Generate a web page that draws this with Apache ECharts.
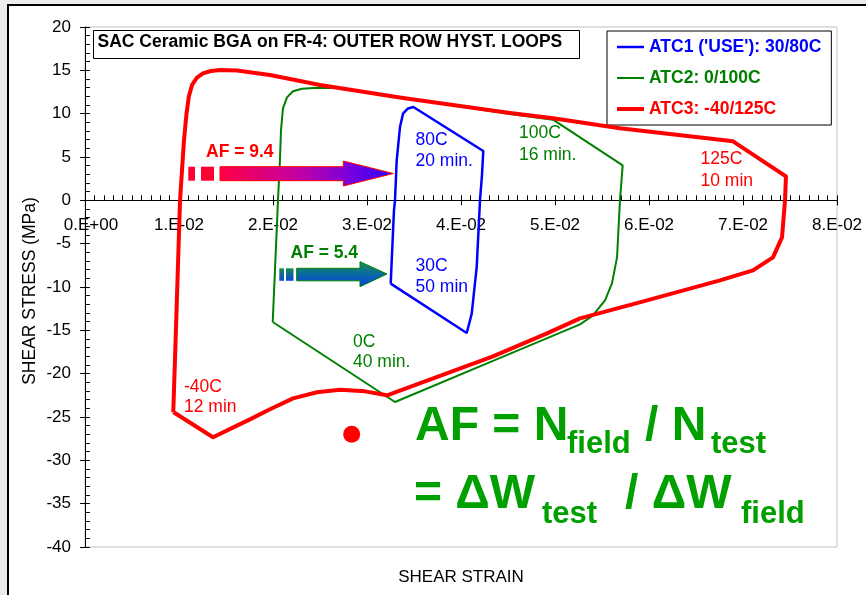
<!DOCTYPE html>
<html>
<head>
<meta charset="utf-8">
<script src="https://cdn.jsdelivr.net/npm/echarts/dist/echarts.min.js"></script>
<style>
  html, body { margin: 0; padding: 0; background: #ececec; overflow: hidden; }
  #frame { position: absolute; left: 7px; top: 4px; width: 900px; height: 700px; border: 2px solid #000; background: #fff; }
  #chart { position: absolute; left: 0; top: 0; width: 866px; height: 595px; }
</style>
</head>
<body>
<div id="frame"></div>
<div id="chart"></div>
<script>
// ---- data ----
const xTickLabels = ['0.E+00', '1.E-02', '2.E-02', '3.E-02', '4.E-02', '5.E-02', '6.E-02', '7.E-02', '8.E-02'];
const seriesNames = ["ATC1 ('USE'): 30/80C", 'ATC2: 0/100C', 'ATC3: -40/125C'];

const atc1Strain = [0.03252, 0.03287, 0.03298, 0.03316, 0.03351, 0.03383, 0.03436, 0.03493, 0.04237, 0.04223, 0.04202, 0.04167, 0.04114, 0.04061, 0.03252];
const atc1Stress = [-9.61, -1.15, 0.0, 4.62, 8.46, 10.0, 10.6, 10.77, 5.69, 2.88, 0.0, -7.7, -13.07, -15.31, -9.61];

const atc2Strain = [0.01997, 0.02053, 0.02074, 0.02085, 0.02106, 0.02149, 0.02213, 0.02309, 0.02468, 0.02681, 0.03383, 0.04521, 0.04979, 0.0572, 0.05691, 0.0566, 0.05606, 0.05532, 0.05394, 0.05266, 0.0434, 0.03298, 0.01997];
const atc2Stress = [-14.04, 0.0, 4.62, 8.08, 10.62, 11.88, 12.58, 12.87, 13.0, 12.96, 11.85, 9.95, 9.31, 4.04, 0.0, -6.58, -9.58, -11.54, -13.38, -14.31, -18.52, -23.27, -14.04];

const atc3Strain = [0.00939, 0.00957, 0.01011, 0.01053, 0.01080, 0.01105, 0.01140, 0.01191, 0.01255, 0.01340, 0.01436, 0.01617, 0.01968, 0.025, 0.03383, 0.04521, 0.04979, 0.05691, 0.06894, 0.07457, 0.07447, 0.07415, 0.07319, 0.07106, 0.06755, 0.05979, 0.05266, 0.04915, 0.0434, 0.03213, 0.02979, 0.02713, 0.02468, 0.02213, 0.01968, 0.01755, 0.01578, 0.01362, 0.00939];
const atc3Stress = [-24.43, -18.46, 0.0, 6.92, 10.0, 12.0, 13.35, 14.15, 14.65, 14.92, 15.03, 14.97, 14.46, 13.3, 11.8, 10.08, 9.46, 8.31, 6.81, 2.77, 0.0, -4.27, -6.58, -8.08, -9.23, -11.54, -13.62, -15.35, -18.0, -22.5, -22.04, -21.86, -22.15, -22.85, -24.11, -25.27, -26.2, -27.34, -24.43];

const bulletStrain = [0.02837];
const bulletStress = [-27.0];

const zip = (xs, ys) => xs.map((x, i) => [x, ys[i]]);

const FONT = '"Liberation Sans", Arial, sans-serif';
const BLUE = '#0000ff', GREEN = '#008000', RED = '#ff0000', BIGGREEN = '#00a000';

function txt(text, x, y, size, color, bold, lineHeight) {
  const style = {
    text: text, fill: color,
    font: (bold ? 'bold ' : '') + size + 'px ' + FONT,
    align: 'left', verticalAlign: 'middle'
  };
  if (lineHeight) style.lineHeight = lineHeight;
  return { type: 'text', x: x, y: y, z: 20, style: style };
}

const chart = echarts.init(document.getElementById('chart'), null, { renderer: 'canvas' });

const gridTop = 27, gridBottom = 48, chartH = 595;
// x tick labels must sit just under the zero line (Excel style)
const zeroLineY = 200;
const labelMargin = 17 - ((chartH - gridBottom) - zeroLineY);

const option = {
  animation: false,
  backgroundColor: 'transparent',
  grid: {
    left: 85, right: 29, top: gridTop, bottom: gridBottom,
    show: true, borderColor: '#c0c0c0', borderWidth: 1, backgroundColor: 'transparent',
    containLabel: false, outerBoundsMode: 'none'
  },
  legend: {
    orient: 'vertical', left: 607, top: 31,
    padding: [7, 10, 7, 10],
    itemWidth: 27, itemHeight: 14, itemGap: 13,
    borderColor: '#000', borderWidth: 1, backgroundColor: '#fff',
    selectedMode: false,
    textStyle: { fontFamily: FONT, fontSize: 17.5, fontWeight: 'bold' },
    data: [
      { name: seriesNames[0], icon: 'path://M0,0L27,0L27,2.5L0,2.5Z', textStyle: { color: BLUE } },
      { name: seriesNames[1], icon: 'path://M0,0L27,0L27,2L0,2Z', textStyle: { color: GREEN } },
      { name: seriesNames[2], icon: 'path://M0,0L27,0L27,4L0,4Z', textStyle: { color: RED } }
    ]
  },
  xAxis: [
    {
      type: 'value', min: 0, max: 0.08, interval: 0.01, position: 'bottom',
      axisLine: { show: true, onZero: true, onZeroAxisIndex: 0, lineStyle: { color: '#000', width: 1 } },
      axisTick: { show: true, inside: false, length: 5, lineStyle: { color: '#000' } },
      axisLabel: {
        margin: labelMargin, color: '#000', fontFamily: FONT, fontSize: 17,
        formatter: v => {
          const i = Math.round(v / 0.01);
          return i === 0 ? '{first|' + xTickLabels[i] + '}' : xTickLabels[i];
        },
        rich: { first: { fontFamily: FONT, fontSize: 17, color: '#000', padding: [0, 0, 0, 12] } }
      },
      splitLine: { show: false }
    },
    {
      type: 'value', min: 0, max: 0.08, interval: 0.001, position: 'bottom',
      axisLine: { show: false, onZero: true, onZeroAxisIndex: 0 },
      axisTick: { show: true, inside: true, length: 5, lineStyle: { color: '#000' } },
      axisLabel: { show: false },
      splitLine: { show: false }
    }
  ],
  yAxis: [
    {
      type: 'value', min: -40, max: 20, interval: 5, position: 'left',
      axisLine: { show: true, onZero: false, lineStyle: { color: '#000', width: 1 } },
      axisTick: { show: true, inside: false, length: 5, lineStyle: { color: '#000' } },
      axisLabel: { margin: 14, color: '#000', fontFamily: FONT, fontSize: 17 },
      splitLine: { show: false }
    },
    {
      type: 'value', min: -40, max: 20, interval: 1, position: 'left', offset: 0,
      axisLine: { show: false, onZero: false },
      axisTick: { show: true, inside: true, length: 5, lineStyle: { color: '#000' } },
      axisLabel: { show: false },
      splitLine: { show: false }
    }
  ],
  series: [
    {
      name: seriesNames[0], type: 'line', data: zip(atc1Strain, atc1Stress),
      symbol: 'none', smooth: false, color: BLUE,
      lineStyle: { color: BLUE, width: 2.5 }, z: 3
    },
    {
      name: seriesNames[1], type: 'line', data: zip(atc2Strain, atc2Stress),
      symbol: 'none', smooth: false, color: GREEN,
      lineStyle: { color: GREEN, width: 2 }, z: 4
    },
    {
      name: seriesNames[2], type: 'line', data: zip(atc3Strain, atc3Stress),
      symbol: 'none', smooth: false, color: RED,
      lineStyle: { color: RED, width: 4, join: 'round' }, z: 5
    },
    {
      name: 'bullet', type: 'scatter', data: zip(bulletStrain, bulletStress),
      symbol: 'circle', symbolSize: 17, itemStyle: { color: RED, opacity: 1 }, z: 6, silent: true
    }
  ],
  graphic: {
    elements: [
      // title box
      { type: 'rect', z: 15, shape: { x: 93.5, y: 30.5, width: 486, height: 28 },
        style: { fill: '#fff', stroke: '#000', lineWidth: 1 } },
      txt('SAC Ceramic BGA on FR-4: OUTER ROW HYST. LOOPS', 97.5, 42, 17.5, '#000', true),

      // axis names
      { type: 'text', z: 20, x: 461, y: 577,
        style: { text: 'SHEAR STRAIN', fill: '#000', font: '17px ' + FONT, align: 'center', verticalAlign: 'middle' } },
      { type: 'text', z: 20, x: 30, y: 291, rotation: Math.PI / 2,
        style: { text: 'SHEAR STRESS (MPa)', fill: '#000', font: '17.5px ' + FONT, align: 'center', verticalAlign: 'middle' } },

      // loop annotations
      txt('80C\n20 min.', 415.5, 150.5, 17.5, BLUE, false, 21),
      txt('30C\n50 min', 415.5, 276.5, 17.5, BLUE, false, 21),
      txt('100C\n16 min.', 519, 144.3, 17.5, GREEN, false, 21.5),
      txt('125C\n10 min', 700.5, 170.3, 17.5, RED, false, 21.5),
      txt('0C\n40 min.', 353, 352.3, 17.5, GREEN, false, 20.5),
      txt('-40C\n12 min', 184, 397.3, 17.5, RED, false, 20),

      // AF arrows
      txt('AF = 9.4', 206, 152.5, 17.5, RED, true),
      { type: 'rect', z: 18, shape: { x: 188.3, y: 166.7, width: 6.7, height: 14 }, style: { fill: '#ff0033' } },
      { type: 'rect', z: 18, shape: { x: 201, y: 166.7, width: 13, height: 14 }, style: { fill: '#ff0033' } },
      { type: 'polygon', z: 18,
        shape: { points: [[220, 166.7], [343.3, 166.7], [343.3, 161], [393.3, 173.5], [343.3, 186], [343.3, 180.7], [220, 180.7]] },
        style: {
          fill: new echarts.graphic.LinearGradient(0, 0, 1, 0, [
            { offset: 0, color: '#ff0044' }, { offset: 0.45, color: '#c400a4' },
            { offset: 0.72, color: '#8000d8' }, { offset: 1, color: '#2a00ff' }
          ]),
          stroke: '#ff0000', lineWidth: 1
        } },

      txt('AF = 5.4', 290.5, 253, 17.5, GREEN, true),
      { type: 'rect', z: 18, shape: { x: 279.3, y: 268.3, width: 4.7, height: 12.5 },
        style: { fill: new echarts.graphic.LinearGradient(0, 0, 0, 1, [{ offset: 0, color: '#148a46' }, { offset: 1, color: '#0a48e0' }]) } },
      { type: 'rect', z: 18, shape: { x: 286, y: 268.3, width: 7.5, height: 12.5 },
        style: { fill: new echarts.graphic.LinearGradient(0, 0, 0, 1, [{ offset: 0, color: '#148a46' }, { offset: 1, color: '#0a48e0' }]) } },
      { type: 'polygon', z: 18,
        shape: { points: [[296.7, 268.3], [360, 268.3], [360, 261.7], [387, 274], [360, 286.7], [360, 280.8], [296.7, 280.8]] },
        style: {
          fill: new echarts.graphic.LinearGradient(0, 0, 0, 1, [
            { offset: 0, color: '#18904a' }, { offset: 0.5, color: '#0a6aa0' }, { offset: 1, color: '#0a3cf0' }
          ]),
          stroke: '#008000', lineWidth: 1
        } },

      // formula
      txt('AF = N', 415, 426.7, 48, BIGGREEN, true),
      txt('field', 567, 444.3, 31, BIGGREEN, true),
      txt('/ N', 645, 426.7, 48, BIGGREEN, true),
      txt('test', 711, 444.3, 31, BIGGREEN, true),
      txt('= \u0394W', 414, 495.1, 48, BIGGREEN, true),
      txt('test', 542, 514.3, 31, BIGGREEN, true),
      txt('/ \u0394W', 625, 495.1, 48, BIGGREEN, true),
      txt('field', 741, 514.3, 31, BIGGREEN, true)
    ]
  }
};

chart.setOption(option);
</script>
</body>
</html>
